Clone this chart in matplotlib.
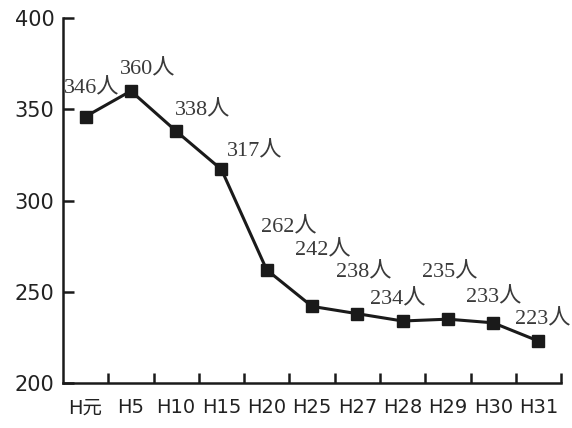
import matplotlib
matplotlib.use("Agg")
import matplotlib.pyplot as plt
from matplotlib.ticker import FixedLocator

# data
years = ["H元", "H5", "H10", "H15", "H20", "H25", "H27", "H28", "H29", "H30", "H31"]
people = [346, 360, 338, 317, 262, 242, 238, 234, 235, 233, 223]
labels = [str(v) + "人" for v in people]

# label offsets in pixels (dx, dy)
offsets = [(6, 28), (17, 21), (26, 21), (33, 18), (22, 42), (11, 56),
           (6, 41), (-5, 21), (2, 47), (0, 25), (4, 21)]

plt.rcParams['font.family'] = ['DejaVu Sans', 'Noto Sans CJK JP']

fig = plt.figure(figsize=(5.72, 4.28), dpi=100)
ax = fig.add_axes([0.110, 0.105, 0.871, 0.853])

x = list(range(len(years)))
ax.plot(x, people, color="#1a1a1a", lw=2.2, marker="s", ms=8.5,
        markeredgecolor="#1a1a1a", markerfacecolor="#1a1a1a")

for i in range(len(years)):
    ax.annotate(labels[i], (x[i], people[i]), xytext=offsets[i],
                textcoords="offset pixels", ha="center", va="center",
                fontsize=16, color="#3a3a3a",
                family=['Liberation Serif', 'Noto Sans CJK JP'])

ax.set_xlim(-0.5, len(years) - 0.5)
ax.set_ylim(200, 400)
ax.set_yticks([200, 250, 300, 350, 400])
ax.set_xticks(x)
ax.set_xticklabels(years)
ax.xaxis.set_minor_locator(FixedLocator([i + 0.5 for i in x]))

for s in ["top", "right"]:
    ax.spines[s].set_visible(False)
for s in ["left", "bottom"]:
    ax.spines[s].set_linewidth(1.8)
    ax.spines[s].set_color("#1a1a1a")

ax.tick_params(axis="y", direction="in", length=8, width=1.8, color="#1a1a1a",
               labelsize=15, pad=6, labelcolor="#222222")
ax.tick_params(axis="x", which="major", length=0, labelsize=14, pad=11,
               labelcolor="#222222")
ax.tick_params(axis="x", which="minor", direction="in", length=7, width=1.8,
               color="#1a1a1a")

fig.savefig("out.png", dpi=100)
